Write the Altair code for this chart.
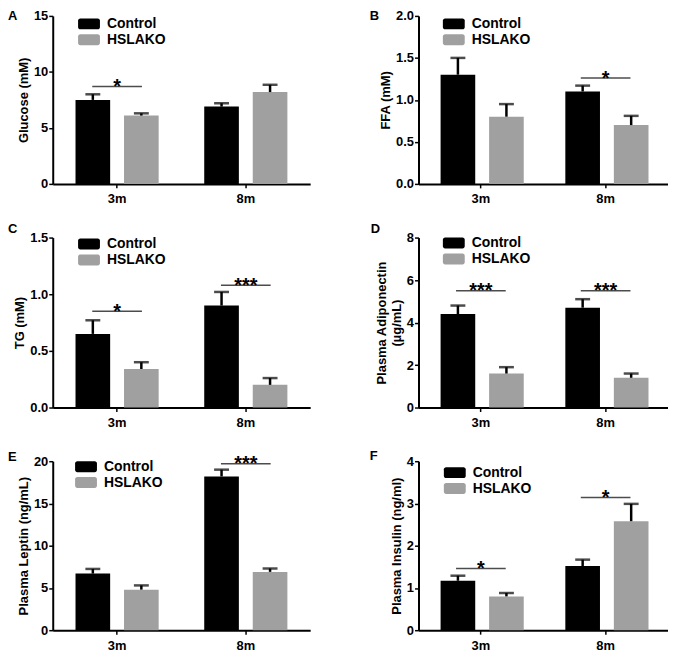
import altair as alt
import pandas as pd

FONT = "Liberation Sans"

AGES = ["3m", "8m"]
GROUPS = ["Control", "HSLAKO"]
COLORS = ["#000000", "#a0a0a0"]

# Panel A - Glucose (mM)
glucose_control = [7.5, 6.9]
glucose_control_sem = [0.5, 0.3]
glucose_hslako = [6.1, 8.2]
glucose_hslako_sem = [0.2, 0.65]
glucose_sig_age = ["3m"]
glucose_sig_y = [8.7]
glucose_sig_txt = ["*"]

# Panel B - FFA (mM)
ffa_control = [1.3, 1.1]
ffa_control_sem = [0.2, 0.07]
ffa_hslako = [0.8, 0.7]
ffa_hslako_sem = [0.15, 0.11]
ffa_sig_age = ["8m"]
ffa_sig_y = [1.26]
ffa_sig_txt = ["*"]

# Panel C - TG (mM)
tg_control = [0.65, 0.9]
tg_control_sem = [0.12, 0.12]
tg_hslako = [0.34, 0.2]
tg_hslako_sem = [0.06, 0.06]
tg_sig_age = ["3m", "8m"]
tg_sig_y = [0.85, 1.08]
tg_sig_txt = ["*", "***"]

# Panel D - Plasma Adiponectin (ug/mL)
adipo_control = [4.4, 4.7]
adipo_control_sem = [0.4, 0.4]
adipo_hslako = [1.6, 1.4]
adipo_hslako_sem = [0.3, 0.2]
adipo_sig_age = ["3m", "8m"]
adipo_sig_y = [5.5, 5.5]
adipo_sig_txt = ["***", "***"]

# Panel E - Plasma Leptin (ng/mL)
leptin_control = [6.7, 18.2]
leptin_control_sem = [0.55, 0.8]
leptin_hslako = [4.8, 6.9]
leptin_hslako_sem = [0.5, 0.4]
leptin_sig_age = ["8m"]
leptin_sig_y = [19.7]
leptin_sig_txt = ["***"]

# Panel F - Plasma Insulin (ng/ml)
insulin_control = [1.17, 1.52]
insulin_control_sem = [0.12, 0.15]
insulin_hslako = [0.8, 2.58]
insulin_hslako_sem = [0.08, 0.41]
insulin_sig_age = ["3m", "8m"]
insulin_sig_y = [1.46, 3.14]
insulin_sig_txt = ["*", "*"]

LEGEND_PATH = ("M-1.6,-1 H1.6 A0.4,0.4 0 0 1 2,-0.6 V0.6 A0.4,0.4 0 0 1 1.6,1 "
               "H-1.6 A0.4,0.4 0 0 1 -2,0.6 V-0.6 A0.4,0.4 0 0 1 -1.6,-1 Z")


def panel(letter, title, ymax, ticks, fmt, cm, cs, hm, hs, sig_age, sig_y, sig_txt,
          width, height, leg_x, leg_y, let_x, let_y):
    df = pd.DataFrame({
        "Age": AGES + AGES,
        "Group": [GROUPS[0]] * 2 + [GROUPS[1]] * 2,
        "Mean": cm + hm,
        "SEM": cs + hs,
    })
    df["Top"] = df["Mean"] + df["SEM"]
    sig = pd.DataFrame({"Age": sig_age, "Y": sig_y, "Label": sig_txt})

    x = alt.X("Age:N", scale=alt.Scale(domain=AGES, paddingInner=0.354, paddingOuter=0.177),
              axis=alt.Axis(title=None, labelAngle=0))
    xo = alt.XOffset("Group:N", scale=alt.Scale(domain=GROUPS, paddingInner=0.286, paddingOuter=0))
    ysc = alt.Scale(domain=[0, ymax], nice=False, zero=True)
    yax = alt.Axis(title=title, values=ticks, format=fmt)

    def Y(field):
        return alt.Y(field, scale=ysc, axis=yax)

    color = alt.Color("Group:N", scale=alt.Scale(domain=GROUPS, range=COLORS),
                      legend=alt.Legend(title=None, orient="none", legendX=leg_x - 2, legendY=leg_y,
                                        symbolType=LEGEND_PATH, symbolSize=121,
                                        symbolStrokeWidth=0, labelFont=FONT, labelFontSize=14,
                                        labelFontWeight="bold", labelColor="black",
                                        labelOffset=11, rowPadding=2, padding=0))

    bars = alt.Chart(df).mark_bar().encode(x=x, xOffset=xo, y=Y("Mean:Q"), color=color)
    stems = alt.Chart(df).mark_rule(color="black", strokeWidth=2.5).encode(
        x=x, xOffset=xo, y=Y("Mean:Q"), y2="Top:Q")
    caps = alt.Chart(df).mark_tick(color="black", thickness=2.5, size=15, orient="horizontal").encode(
        x=x, xOffset=xo, y=Y("Top:Q"))
    sline = alt.Chart(sig).mark_tick(color="black", thickness=1.5, size=50, orient="horizontal").encode(
        x=x, y=Y("Y:Q"))
    stext = alt.Chart(sig).mark_text(font=FONT, fontSize=20, fontWeight="bold", color="black",
                                     baseline="alphabetic", dy=6.5).encode(
        x=x, y=Y("Y:Q"), text="Label:N")
    lab = alt.Chart(pd.DataFrame({"t": [letter]})).mark_text(
        font=FONT, fontSize=13, fontWeight="bold", color="black", align="left", baseline="top").encode(
        x=alt.value(let_x), y=alt.value(let_y), text="t:N")
    return alt.layer(bars, stems, caps, sline, stext, lab).properties(width=width, height=height)


pA = panel("A", "Glucose (mM)", 15, [0, 5, 10, 15], "d",
           glucose_control, glucose_control_sem, glucose_hslako, glucose_hslako_sem,
           glucose_sig_age, glucose_sig_y, glucose_sig_txt, 259, 169, 31.5, 1, -45, -6)
pB = panel("B", "FFA (mM)", 2, [0, 0.5, 1, 1.5, 2], ".1f",
           ffa_control, ffa_control_sem, ffa_hslako, ffa_hslako_sem,
           ffa_sig_age, ffa_sig_y, ffa_sig_txt, 251, 169, 30.5, 1, -49, -6)
pC = panel("C", "TG (mM)", 1.5, [0, 0.5, 1, 1.5], ".1f",
           tg_control, tg_control_sem, tg_hslako, tg_hslako_sem,
           tg_sig_age, tg_sig_y, tg_sig_txt, 259, 171, 31.5, -0.5, -45, -14.5)
pD = panel("D", ["Plasma Adiponectin", "(µg/mL)"], 8, [0, 2, 4, 6, 8], "d",
           adipo_control, adipo_control_sem, adipo_hslako, adipo_hslako_sem,
           adipo_sig_age, adipo_sig_y, adipo_sig_txt, 251, 171, 30.5, -1.5, -48, -14.5)
pE = panel("E", "Plasma Leptin (ng/mL)", 20, [0, 5, 10, 15, 20], "d",
           leptin_control, leptin_control_sem, leptin_hslako, leptin_hslako_sem,
           leptin_sig_age, leptin_sig_y, leptin_sig_txt, 259, 170, 28.5, -1.5, -45, -10.5)
pF = panel("F", "Plasma Insulin (ng/ml)", 4, [0, 1, 2, 3, 4], "d",
           insulin_control, insulin_control_sem, insulin_hslako, insulin_hslako_sem,
           insulin_sig_age, insulin_sig_y, insulin_sig_txt, 251, 170, 31.5, 4.5, -49, -11.5)

chart = alt.concat(pA, pB, pC, pD, pE, pF, columns=2,
                   spacing=alt.RowColnumber(row=54, column=109), bounds="flush").resolve_scale(
    color="independent").resolve_legend(color="independent").properties(padding=0).configure_view(
    stroke=None).configure_axis(
    domainColor="black", domainWidth=2, tickColor="black", tickWidth=1.5, tickSize=4,
    labelFont=FONT, labelFontWeight="bold", labelFontSize=13, labelColor="black",
    titleFont=FONT, titleFontWeight="bold", titleFontSize=13, titleColor="black", grid=False
).configure_axisY(labelPadding=1, titlePadding=3).configure_axisX(labelPadding=5)

chart.save("out.html", embed_options={"renderer": "svg", "actions": False})
